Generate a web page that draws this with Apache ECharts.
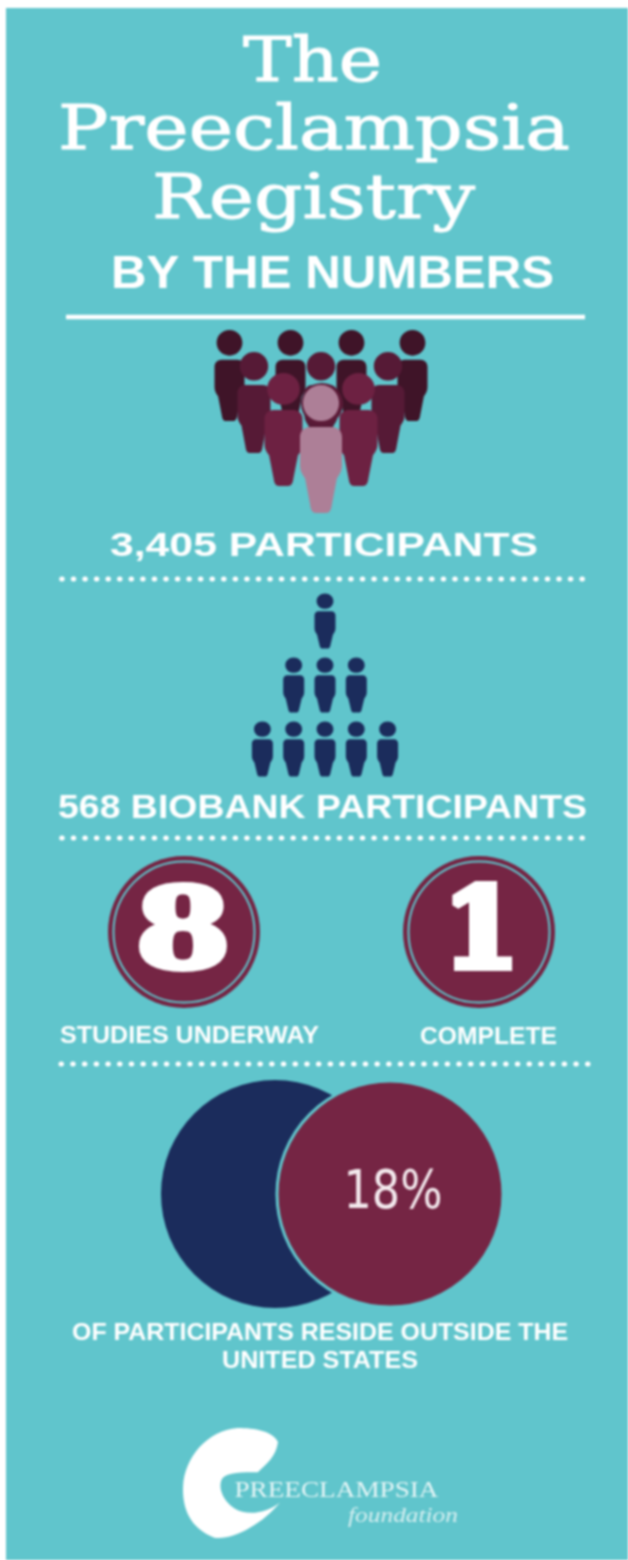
<!DOCTYPE html>
<html>
<head>
<meta charset="utf-8">
<style>
  html,body{margin:0;padding:0;background:#fff;}
  #chart{width:628px;height:1560px;filter:blur(0.8px);}
</style>
<script src="https://cdn.jsdelivr.net/npm/echarts@6/dist/echarts.min.js"></script>
</head>
<body>
<div id="chart"></div>
<script>
// figures per row, back to front / top to bottom
var crowdRows = [4, 3, 2, 1];
var biobankRows = [1, 3, 5];
var studyValues = ['8', '1'];
var studyLabels = ['STUDIES UNDERWAY', 'COMPLETE'];
var outsideShare = '18%';
var titleLines = ['The', 'Preeclampsia', 'Registry'];
var subtitle = 'BY THE NUMBERS';
var participantsLabel = '3,405 PARTICIPANTS';
var biobankLabel = '568 BIOBANK PARTICIPANTS';
var outsideLabel = ['OF PARTICIPANTS RESIDE OUTSIDE THE', 'UNITED STATES'];
var logoLines = ['PREECLAMPSIA', 'foundation'];

var TEAL = '#60c5cc', MAROON = '#752544', NAVY = '#1b2c5c', WHITE = '#ffffff';

// person icon, the biobank ones have a smaller head than the crowd ones
var personPath = 'path://M50 0C72 0 90 16 90 37C90 58 72 74 50 74C28 74 10 58 10 37C10 16 28 0 50 0Z' +
  'M20 86L80 86C92 86 100 94 100 106L100 168C100 182 94 190 88 198L76 250C74 262 70 266 62 266L38 266C30 266 26 262 24 250L12 198C6 190 0 182 0 168L0 106C0 94 8 86 20 86Z';
var crowdPath = 'path://M50 0C74 0 93 19 93 43C93 67 74 86 50 86C26 86 7 67 7 43C7 19 26 0 50 0Z' +
  'M24 100L76 100C90 100 100 110 100 124L100 190C100 205 95 212 88 222L76 285C74 300 70 305 62 305L38 305C30 305 26 300 24 285L12 222C5 212 0 205 0 190L0 124C0 110 10 100 24 100Z';
// brush stroke C of the logo
var logoPath = 'path://M95 14C90 3 72 0 55 0C25 2 2 30 1 58C0 80 8 100 32 109C50 112 80 95 97 74C85 84 65 88 52 80C40 72 35 58 40 50C45 44 60 44 75 44C85 35 93 28 95 14Z';

var crowdLayout = [
  {step: 61, top: 330, h: 91, w: 30, color: '#3f1428'},
  {step: 67, top: 352, h: 101, w: 33, color: '#561a36'},
  {step: 75, top: 373, h: 113, w: 38, color: '#6d2142'},
  {step: 0, top: 385, h: 128, w: 42, color: '#ad7f97'}
];
var CROWD_CX = 321;

function rowPoints(n, step, cx, y) {
  var pts = [];
  for (var i = 0; i < n; i++) {
    pts.push([cx + (i - (n - 1) / 2) * step, y]);
  }
  return pts;
}

var series = [];

crowdRows.forEach(function (n, r) {
  var l = crowdLayout[r];
  series.push({
    type: 'scatter', silent: true, z: 2 + r,
    symbol: crowdPath, symbolSize: [l.w, l.h], symbolKeepAspect: false,
    itemStyle: {color: l.color, opacity: 1},
    data: rowPoints(n, l.step, CROWD_CX, l.top + l.h / 2)
  });
  if (r === 2) {
    // dark ring behind the front head
    series.push({
      type: 'scatter', silent: true, z: 5, symbol: 'circle', symbolSize: 42,
      itemStyle: {color: '#5c1b38', opacity: 1}, data: [[CROWD_CX + 1, 404]]
    });
  }
});

biobankRows.forEach(function (n, r) {
  series.push({
    type: 'scatter', silent: true, z: 2,
    symbol: personPath, symbolSize: [21, 55], symbolKeepAspect: false,
    itemStyle: {color: NAVY, opacity: 1},
    data: rowPoints(n, 31.3, 325, 621 + r * 64)
  });
});

// study badges
var badgeX = [184, 479];
series.push({
  type: 'scatter', silent: true, z: 2, symbol: 'circle', symbolSize: 152,
  itemStyle: {color: MAROON, opacity: 1},
  data: badgeX.map(function (x) { return [x, 932]; })
});
series.push({
  type: 'scatter', silent: true, z: 3, symbol: 'circle', symbolSize: 141,
  itemStyle: {color: 'rgba(0,0,0,0)', borderColor: TEAL, borderWidth: 2, opacity: 1},
  data: badgeX.map(function (x) { return [x, 932]; })
});

// overlapping circles
series.push({
  type: 'scatter', silent: true, z: 2, symbol: 'circle', symbolSize: 228,
  itemStyle: {color: NAVY, opacity: 1}, data: [[275, 1194]]
});
series.push({
  type: 'scatter', silent: true, z: 3, symbol: 'circle', symbolSize: 226,
  itemStyle: {color: MAROON, borderColor: TEAL, borderWidth: 3, opacity: 1},
  data: [[390, 1194]]
});

// logo brush
series.push({
  type: 'scatter', silent: true, z: 2, symbol: logoPath, symbolSize: [97, 110], symbolKeepAspect: false,
  itemStyle: {color: WHITE, opacity: 1}, data: [[231.5, 1483]]
});

// stretch a line of text so it spans the width in the picture
var ctx = document.createElement('canvas').getContext('2d');
function textEl(text, cx, cy, width, font, fontSize, fontWeight, color, fontStyle, strokeWidth) {
  var fontStr = (fontStyle || 'normal') + ' ' + (fontWeight || 'normal') + ' ' + fontSize + 'px "' + font + '"';
  ctx.font = fontStr;
  var sx = width / ctx.measureText(text).width;
  var style = {
    text: text, fill: color || WHITE, font: fontStr,
    textAlign: 'center', textVerticalAlign: 'middle'
  };
  if (strokeWidth) {
    style.stroke = color || WHITE;
    style.lineWidth = strokeWidth;
  }
  return {type: 'text', x: cx, y: cy, scaleX: sx, z: 20, silent: true, style: style};
}

function lineEl(x1, x2, y, dotPeriod) {
  return {
    type: 'line', z: 10, silent: true, shape: {x1: x1, y1: y, x2: x2, y2: y},
    style: dotPeriod
      ? {stroke: WHITE, lineWidth: 5, lineCap: 'round', lineDash: [0.5, dotPeriod - 0.5]}
      : {stroke: WHITE, lineWidth: 4.5}
  };
}

var sans = 'Liberation Sans';
var serif = 'DejaVu Serif';
var graphics = [
  {type: 'rect', z: -1, silent: true, shape: {x: 6, y: 8, width: 622, height: 1552}, style: {fill: TEAL}},
  textEl(titleLines[0], 312.5, 65, 139, serif, 62, 'normal', WHITE, 'normal', 1),
  textEl(titleLines[1], 314, 133, 512, serif, 62, 'normal', WHITE, 'normal', 1),
  textEl(titleLines[2], 313.5, 202, 323, serif, 62, 'normal', WHITE, 'normal', 1),
  textEl(subtitle, 332.5, 275, 443, sans, 47, 'bold'),
  lineEl(66, 585, 317),
  textEl(participantsLabel, 324, 547, 428, sans, 34, 'bold'),
  lineEl(61.7, 584, 579, 11.56),
  textEl(biobankLabel, 322.5, 809, 529, sans, 34, 'bold'),
  lineEl(61.7, 584, 838, 11.56),
  textEl(studyValues[0], 183, 938, 95, serif, 111, 'bold', WHITE, 'normal', 6),
  textEl(studyValues[1], 481, 938, 76, serif, 111, 'bold', WHITE, 'normal', 8),
  textEl(studyLabels[0], 189.5, 1036, 259, sans, 24, 'bold'),
  textEl(studyLabels[1], 488.5, 1037, 137, sans, 24, 'bold'),
  lineEl(61, 589, 1064, 11.7),
  textEl(outsideShare, 393, 1194, 99, 'DejaVu Sans', 54, 'normal', '#f3e9ed'),
  textEl(outsideLabel[0], 320, 1333, 496, sans, 24, 'bold'),
  textEl(outsideLabel[1], 320, 1361, 196, sans, 24, 'bold'),
  textEl(logoLines[0], 336.5, 1491, 204, 'Liberation Serif', 24, 'normal', '#e4f5f6'),
  textEl(logoLines[1], 403, 1517, 110, 'Liberation Serif', 20, 'normal', '#d5eef0', 'italic')
];

var chart = echarts.init(document.getElementById('chart'), null, {renderer: 'canvas'});
chart.setOption({
  animation: false,
  backgroundColor: WHITE,
  // page pixels as the scale so the marks stay on the library's axes
  grid: {left: 0, right: 0, top: 0, bottom: 0},
  xAxis: {type: 'value', min: 0, max: 628, show: false},
  yAxis: {type: 'value', min: 0, max: 1560, inverse: true, show: false},
  graphic: graphics,
  series: series
});
</script>
</body>
</html>
